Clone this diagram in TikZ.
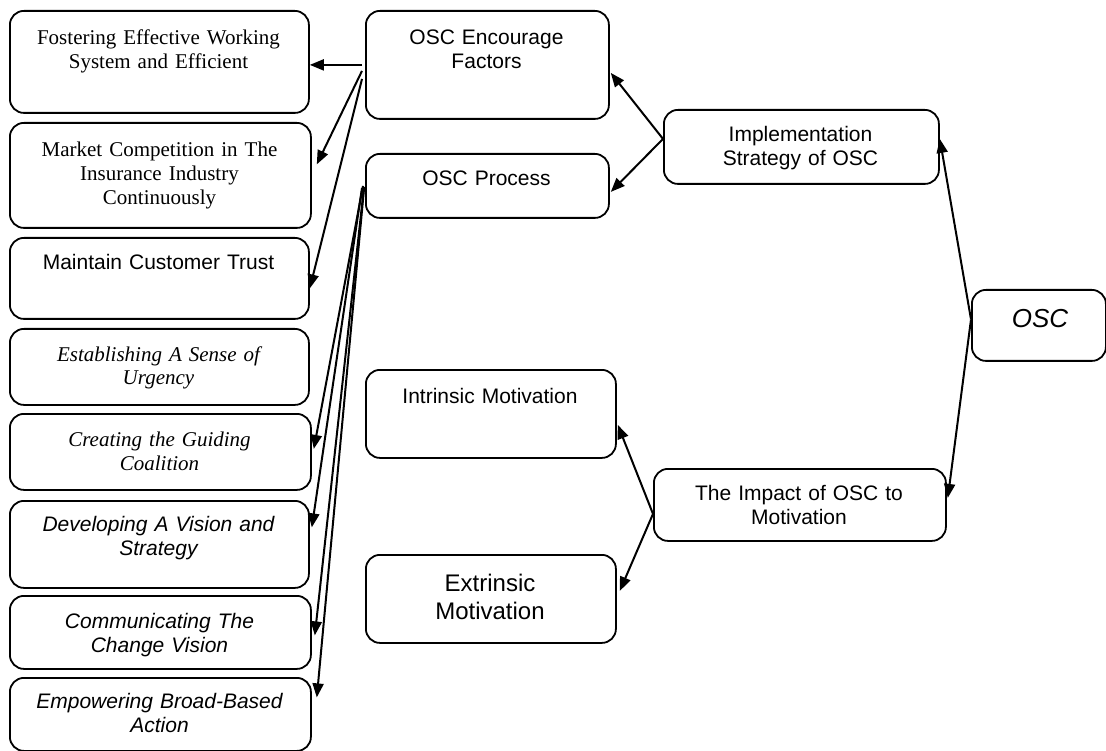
\documentclass[tikz,border=0pt]{standalone}
\usepackage{fontspec}
\setmainfont{Liberation Serif}
\setsansfont{Liberation Sans}
\usetikzlibrary{arrows.meta,calc}
\begin{document}
\begin{tikzpicture}[x=1pt,y=-1pt,
  box/.style={draw,line width=1.8pt,rounded corners=14pt,anchor=north west,inner sep=0pt},
  tx/.style={anchor=base,align=center,inner sep=0pt},
  rm/.style={tx,font=\rmfamily\fontsize{21}{24}\selectfont},
  rmi/.style={tx,font=\rmfamily\itshape\fontsize{21}{24}\selectfont},
  sf/.style={tx,font=\sffamily\fontsize{21}{24}\selectfont},
  sfi/.style={tx,font=\sffamily\itshape\fontsize{21}{24}\selectfont},
  conn/.style={line width=2pt,-{Triangle[length=14pt,width=11pt]}}]
\useasboundingbox (0,0) rectangle (1106,751);
% left column
\node[box,minimum width=299pt,minimum height=102pt] (fos) at (9,10) {};
\node[box,minimum width=301pt,minimum height=105pt] (mkt) at (9,122) {};
\node[box,minimum width=299pt,minimum height=81pt] (mct) at (9,237) {};
\node[box,minimum width=299pt,minimum height=76pt] (esu) at (9,328) {};
\node[box,minimum width=301pt,minimum height=76pt] (cgc) at (9,413) {};
\node[box,minimum width=299pt,minimum height=87pt] (dvs) at (9,500) {};
\node[box,minimum width=301pt,minimum height=73pt] (ccv) at (9,595) {};
\node[box,minimum width=301pt,minimum height=73pt] (ebb) at (9,677) {};
% middle / right
\node[box,minimum width=243pt,minimum height=108pt] (enc) at (365,10) {};
\node[box,minimum width=243pt,minimum height=64pt] (pro) at (365,153) {};
\node[box,minimum width=275pt,minimum height=74pt] (imp) at (663,109) {};
\node[box,minimum width=134pt,minimum height=71pt] (osc) at (971,289) {};
\node[box,minimum width=250pt,minimum height=88pt] (int) at (365,369) {};
\node[box,minimum width=292pt,minimum height=72pt] (itm) at (653,468) {};
\node[box,minimum width=250pt,minimum height=88pt] (ext) at (365,554) {};
% texts
\node[rm,text width=290pt] (fos-t) at (158.5,45) {Fostering Effective Working\\System and Efficient};
\node[rm,text width=290pt] (mkt-t) at (159.5,157) {Market Competition in The\\Insurance Industry\\Continuously};
\node[sf,text width=290pt] (mct-t) at (158.5,270) {Maintain Customer Trust};
\node[rmi,text width=290pt] (esu-t) at (158.5,361) {Establishing A Sense of\\Urgency};
\node[rmi,text width=290pt] (cgc-t) at (159.5,446) {Creating the Guiding\\Coalition};
\node[sfi,text width=290pt] (dvs-t) at (158.5,531) {Developing A Vision and\\Strategy};
\node[sfi,text width=290pt] (ccv-t) at (159.5,628) {Communicating The\\Change Vision};
\node[sfi,text width=290pt] (ebb-t) at (159.5,708) {Empowering Broad-Based\\Action};
\node[sf,text width=235pt] (enc-t) at (486.5,45) {OSC Encourage\\Factors};
\node[sf,text width=235pt] (pro-t) at (486.5,186) {OSC Process};
\node[sf,text width=265pt] (imp-t) at (800.5,142) {Implementation\\Strategy of OSC};
\node[tx,font=\sffamily\itshape\fontsize{26}{30}\selectfont,text width=125pt] (osc-t) at (1040,328) {OSC};
\node[sf,text width=240pt] (int-t) at (490,403) {Intrinsic Motivation};
\node[sf,text width=285pt] (itm-t) at (799,500) {The Impact of OSC to\\Motivation};
\node[tx,font=\sffamily\fontsize{24}{28}\selectfont,text width=240pt] (ext-t) at (490,591) {Extrinsic\\Motivation};
% connectors
\draw[conn] ($(enc.west)+(-3,0)$) -- ($(enc.west -| fos.east)+(0,0)$);
\draw[conn] ($(enc.west)+(-3,6)$) -- ($(mkt.east)+(5,-11)$);
\draw[conn] ($(enc.west)+(-3,14)$) -- ($(mct.east)+(0,10)$);
\draw[conn] ($(pro.west)+(-2,0)$) -- ($(cgc.east)+(2,-3)$);
\draw[conn] ($(pro.west)+(-3,2)$) -- ($(dvs.east)+(2,-17)$);
\draw[conn] ($(pro.west)+(-1,1)$) -- ($(ccv.east)+(3,3)$);
\draw[conn] ($(pro.west)+(-1,3)$) -- ($(ebb.east)+(5,-17)$);
\draw[conn] ($(imp.west)+(0,-8)$) -- ($(enc.east)+(1,8)$);
\draw[conn] ($(imp.west)+(0,-8)$) -- ($(pro.east)+(1,6)$);
\draw[conn] ($(osc.west)+(0,-6)$) -- ($(imp.east)+(0,-8)$);
\draw[conn] ($(osc.west)+(0,-6)$) -- ($(itm.east)+(1,-7)$);
\draw[conn] ($(itm.west)+(0,9)$) -- ($(int.east)+(1,11)$);
\draw[conn] ($(itm.west)+(0,9)$) -- ($(ext.east)+(3,-8)$);
\end{tikzpicture}
\end{document}
